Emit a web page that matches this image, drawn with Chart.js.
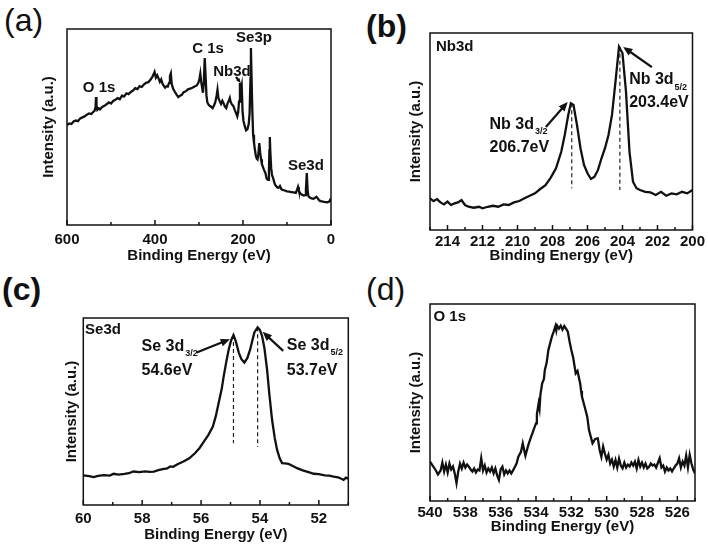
<!DOCTYPE html>
<html>
<head>
<meta charset="utf-8">
<script src="https://cdn.jsdelivr.net/npm/chart.js@4"></script>
<style>
  body { margin: 0; background: #fff; width: 708px; height: 545px; overflow: hidden; position: relative;
         font-family: "Liberation Sans", Arial, sans-serif; }
  canvas { position: absolute; left: 0; top: 0; }
  .tag { position: absolute; font-size: 32px; line-height: 1; color: #111; }
</style>
</head>
<body>
<div class="tag" style="left:4px;top:4px">(a)</div>
<div class="tag" style="left:366px;top:10px;font-weight:bold">(b)</div>
<div class="tag" style="left:2px;top:273px;font-weight:bold">(c)</div>
<div class="tag" style="left:366px;top:273px">(d)</div>
<canvas id="chartA" width="708" height="545"></canvas>
<canvas id="chartB" width="708" height="545"></canvas>
<canvas id="chartC" width="708" height="545"></canvas>
<canvas id="chartD" width="708" height="545"></canvas>
<script>
// (a) survey spectrum
const surveyEnergy = [600,595,590,585,580,575,570,565,560,555,550,545,540,537,535,534,533,531,528,525,520,515,510,505,500,495,490,485,480,475,470,465,460,455,450,445,440,435,430,425,420,415,410,406,403,401,398,395,392,389,386,383,380,377,374,371,368,366,364,362,359,355,351,347,343,339,335,330,325,320,315,310,305,301,299,297,295,293,291,289,287,285,283,281,278,275,272,269,266,263,260,258,256,253,250,247,244,241,238,235,232,230,228,225,222,219,216,213,211,209,207,205,203,201,199,196,193,190,187,185,183,182,181,179,177,175,173,171,169,167,165,163,161,159,157,155,152,149,146,143,141,140,139,138,136,134,131,128,125,122,119,116,113,110,105,100,95,90,85,80,77,75,73,70,66,62,59,57,55,53,51,48,44,40,36,33,30,27,24,20,16,12,8,4,2,0];
const surveyCounts = [51.0,51.8,51.5,52.8,53.3,53.0,54.4,54.9,55.4,56.3,56.9,56.6,57.8,58.4,60.5,65.3,61.0,58.8,59.5,59.0,60.2,60.8,61.6,62.6,62.0,63.3,63.9,64.7,64.2,66.0,65.6,67.2,66.8,67.9,68.6,69.8,69.3,70.8,70.4,71.8,72.6,72.9,74.2,75.6,77.0,78.1,75.2,76.4,74.8,73.1,74.3,72.2,71.0,70.1,70.8,70.6,72.5,76.0,77.3,72.0,69.6,68.0,66.5,65.3,66.0,66.4,67.8,68.2,69.2,69.6,70.0,70.7,71.2,72.8,74.5,77.2,73.0,70.2,67.5,73.0,85.2,76.0,66.0,62.5,61.3,60.7,60.2,59.6,61.0,62.6,66.0,69.0,64.8,63.2,61.8,63.4,62.0,60.4,59.6,62.1,63.5,64.8,62.8,61.4,60.8,58.9,57.2,55.4,57.5,63.0,72.5,69.0,71.2,58.0,53.2,50.4,48.3,48.8,51.5,57.0,75.0,90.3,80.0,60.0,46.0,42.0,38.5,35.6,34.0,33.5,36.5,41.8,37.0,33.5,31.0,29.8,28.0,26.5,23.5,23.0,28.0,38.0,44.9,38.0,29.0,25.5,23.5,21.0,19.9,19.2,19.0,19.9,18.4,17.9,17.6,17.2,17.0,16.8,16.6,16.4,18.0,19.4,17.5,16.2,15.4,15.0,15.2,18.0,26.5,17.0,14.6,14.0,13.6,13.4,13.9,14.4,13.6,12.6,12.2,12.0,11.8,11.7,11.6,12.0,12.8,11.8];

// (b) Nb 3d
const nbEnergy = [215.0,214.8,214.6,214.4,214.2,214.0,213.8,213.6,213.4,213.2,213.0,212.8,212.5,212.2,212.0,211.7,211.4,211.1,210.8,210.5,210.2,209.9,209.6,209.3,209.0,208.7,208.4,208.1,207.8,207.5,207.3,207.1,206.95,206.8,206.6,206.4,206.2,206.0,205.8,205.6,205.4,205.2,205.0,204.8,204.6,204.4,204.2,204.0,203.8,203.6,203.4,203.2,203.0,202.7,202.4,202.1,201.8,201.5,201.2,200.9,200.6,200.3,200.0];
const nbCounts = [16.1,14.7,15.7,14.0,13.0,14.4,12.7,13.5,14.0,15.2,12.7,11.8,11.3,11.8,11.0,11.8,12.3,11.8,13.0,12.7,14.0,14.7,16.1,17.4,18.6,20.8,22.8,26.6,31.3,39.7,48.2,58.4,64.3,63.5,53.3,41.5,33.0,28.8,25.9,27.0,30.5,36.4,41.5,48.2,58.4,75.3,93.0,89.7,70.2,39.7,24.5,21.2,20.3,19.4,19.1,17.8,19.4,17.4,18.6,18.1,19.4,18.6,20.3];

// (c) Se 3d
const seEnergy = [60.0,59.8,59.65,59.5,59.3,59.1,58.97,58.8,58.6,58.45,58.3,58.1,57.9,57.75,57.6,57.45,57.3,57.15,57.05,56.95,56.8,56.6,56.4,56.2,56.05,55.9,55.75,55.6,55.5,55.4,55.3,55.23,55.15,55.06,54.98,54.9,54.82,54.72,54.63,54.53,54.43,54.33,54.25,54.19,54.08,54.0,53.93,53.85,53.76,53.68,53.59,53.5,53.42,53.33,53.25,53.15,53.03,52.9,52.74,52.55,52.35,52.17,52.0,51.8,51.65,51.5,51.35,51.25,51.16,51.08,51.0];
const seCounts = [15.8,15.4,14.9,15.6,16.0,15.7,16.7,16.2,16.6,17.0,17.9,17.6,18.0,17.7,17.9,18.6,19.2,19.6,20.6,20.4,21.8,23.3,25.0,27.8,30.5,34.0,37.5,42.0,47.5,54.8,62.0,69.0,76.0,83.3,88.0,90.9,87.5,81.5,78.0,76.2,78.5,83.3,88.5,92.3,95.0,93.5,90.5,84.0,72.6,59.0,45.7,36.0,29.6,25.0,22.4,22.3,22.0,21.0,19.7,18.5,17.6,16.7,16.5,15.8,15.7,15.2,14.8,14.2,13.4,14.6,14.0];

// (d) O 1s
const oEnergy = [540.0,539.85,539.7,539.55,539.4,539.3,539.2,539.1,539.0,538.9,538.8,538.7,538.6,538.5,538.4,538.3,538.2,538.1,538.0,537.9,537.8,537.7,537.6,537.5,537.4,537.3,537.2,537.1,537.0,536.9,536.8,536.7,536.6,536.5,536.4,536.3,536.2,536.1,536.0,535.9,535.8,535.7,535.6,535.5,535.4,535.3,535.1,535.0,534.85,534.75,534.65,534.6,534.45,534.3,534.2,534.1,534.0,533.95,533.85,533.8,533.75,533.65,533.55,533.5,533.4,533.3,533.2,533.1,533.0,532.9,532.85,532.8,532.7,532.6,532.5,532.4,532.3,532.2,532.1,532.0,531.9,531.75,531.65,531.5,531.45,531.4,531.25,531.1,531.0,530.8,530.65,530.5,530.4,530.3,530.2,530.1,530.0,529.9,529.8,529.7,529.6,529.5,529.4,529.3,529.2,529.1,529.0,528.9,528.8,528.7,528.6,528.5,528.4,528.3,528.2,528.1,528.0,527.9,527.8,527.7,527.6,527.5,527.4,527.3,527.2,527.0,526.9,526.8,526.7,526.6,526.5,526.4,526.3,526.2,526.1,526.0,525.9,525.8,525.7,525.6,525.5,525.4,525.3,525.2,525.1,525.0];
const oCounts = [20,18,16,13.5,15.5,19.5,15,18.5,14.5,19,16,17.5,14,9,15,19,16.5,19.5,17,18.5,17.4,16,15,16.5,14.5,16,15.5,21.7,15.5,18,14.5,16.5,15,17,14,16.5,13,10.7,16,17.4,13.5,15.5,14,15.5,14,15.5,19,22.5,25,29.3,25,23,28,32,34.4,37,39.4,44,49.6,47,54,59.7,62,66.5,70,76.6,80,83.4,86,88.8,86.5,89,87.5,89,87,88.8,87.5,86,81,76.6,73,64.8,66,59.7,56,53,48,42.8,36,29.3,31.5,31.8,26,22.5,27.6,24,21,23.5,19,21,17.5,20.8,17,21.5,18,16.6,19.5,17,18.5,17.5,19.5,18,20,16.5,20.8,17.5,19.5,17,19,16.5,17.4,19,18,18.5,17,21.7,17,18,14.9,17,15.5,16.5,15,16.6,18,19,21.7,17,20,18,23,17,23.4,19,16,14];

// peak markers (dashed drop lines)
const nbMarkEnergy = [206.9, 204.15];
const nbMarkTop = [64.3, 93.0];
const nbMarkBottom = [21.2, 20.3];
const seMarkEnergy = [54.9, 54.08];
const seMarkTop = [90.9, 95.0];
const seMarkBottom = [33.0, 31.0];

Chart.defaults.font.family = '"Liberation Sans", Arial, sans-serif';
Chart.defaults.color = '#111';

const pts = (xs, ys) => xs.map((x, i) => ({x: x, y: ys[i]}));

// box, inward ticks, text notes and arrows
const frame = {
  id: 'frame',
  afterDatasetsDraw(chart, args, opts) {
    const {ctx, chartArea: a, scales: {x, y}} = chart;
    ctx.save();
    ctx.strokeStyle = '#111';
    ctx.lineWidth = 1.5;
    ctx.strokeRect(a.left, a.top, a.right - a.left, a.bottom - a.top);
    const minor = opts.step / 2;
    for (let v = Math.ceil(x.min / minor) * minor; v <= x.max + 1e-9; v += minor) {
      const px = x.getPixelForValue(v);
      const major = Math.abs(v / opts.step - Math.round(v / opts.step)) < 1e-6;
      ctx.beginPath();
      ctx.moveTo(px, a.bottom);
      ctx.lineTo(px, a.bottom - (major ? 5 : 3));
      ctx.stroke();
    }
    ctx.fillStyle = '#111';
    ctx.textBaseline = 'middle';
    (opts.notes || []).forEach(n => {
      ctx.font = 'bold ' + (n.size || 15) + 'px "Liberation Sans", Arial, sans-serif';
      ctx.textAlign = n.align || 'left';
      const px = x.getPixelForValue(n.x), py = y.getPixelForValue(n.y);
      ctx.fillText(n.text, px, py);
      if (n.sub) {
        const w = ctx.measureText(n.text).width;
        ctx.font = 'bold 9px "Liberation Sans", Arial, sans-serif';
        ctx.textAlign = 'left';
        ctx.fillText(n.sub, px + w + 1, py + 7);
      }
    });
    ctx.lineWidth = 2.2;
    (opts.arrows || []).forEach(ar => {
      const x0 = x.getPixelForValue(ar.from[0]), y0 = y.getPixelForValue(ar.from[1]);
      const x1 = x.getPixelForValue(ar.to[0]), y1 = y.getPixelForValue(ar.to[1]);
      const ang = Math.atan2(y1 - y0, x1 - x0);
      const head = ar.head || 10;
      ctx.beginPath();
      ctx.moveTo(x0, y0);
      ctx.lineTo(x1 - Math.cos(ang) * head * 0.7, y1 - Math.sin(ang) * head * 0.7);
      ctx.stroke();
      ctx.beginPath();
      ctx.moveTo(x1, y1);
      ctx.lineTo(x1 - head * Math.cos(ang - 0.4), y1 - head * Math.sin(ang - 0.4));
      ctx.lineTo(x1 - head * Math.cos(ang + 0.4), y1 - head * Math.sin(ang + 0.4));
      ctx.closePath();
      ctx.fill();
    });
    ctx.restore();
  }
};

function makePanel(id, p) {
  const datasets = [{
    data: pts(p.energy, p.counts),
    borderColor: '#111', borderWidth: 2.3, pointRadius: 0, tension: 0
  }];
  (p.marks || []).forEach(m => {
    datasets.push({
      data: [{x: m[0], y: m[1]}, {x: m[0], y: m[2]}],
      borderColor: '#222', borderWidth: 1.2, borderDash: [4, 3], pointRadius: 0
    });
  });
  const xHeight = p.titleY + 9 - p.box.bottom;
  new Chart(document.getElementById(id), {
    type: 'line',
    data: {datasets: datasets},
    options: {
      responsive: false,
      animation: false,
      events: [],
      layout: {padding: {left: p.yTitleX - 9, top: p.box.top, right: 708 - p.box.right,
                         bottom: 545 - p.box.bottom - xHeight}},
      plugins: {
        legend: {display: false},
        tooltip: {enabled: false},
        frame: {step: p.step, notes: p.notes, arrows: p.arrows}
      },
      scales: {
        x: {
          type: 'linear', reverse: true, min: p.min, max: p.max,
          afterFit: s => { s.height = xHeight; },
          grid: {display: false, drawTicks: false},
          border: {display: false},
          ticks: {stepSize: p.step, includeBounds: false, autoSkip: false, maxRotation: 0,
                  padding: p.tickPad, color: '#111', font: {size: 15, weight: 'bold'}},
          title: {display: true, text: 'Binding Energy (eV)', color: '#111', padding: 0,
                  font: {size: 15, weight: 'bold'}}
        },
        y: {
          min: 0, max: 100,
          afterFit: s => { s.width = p.box.left - (p.yTitleX - 9); },
          grid: {display: false, drawTicks: false},
          border: {display: false},
          ticks: {display: false},
          title: {display: true, text: 'Intensity (a.u.)', color: '#111', padding: 0,
                  font: {size: 15, weight: 'bold'}}
        }
      }
    },
    plugins: [frame]
  });
}

makePanel('chartA', {
  energy: surveyEnergy, counts: surveyCounts,
  min: 0, max: 600, step: 200,
  box: {left: 67, right: 331, top: 29, bottom: 225},
  yTitleX: 49, titleY: 256, tickPad: 6,
  notes: [
    {text: 'O 1s', x: 527, y: 70, align: 'center'},
    {text: 'C 1s', x: 279.5, y: 89.8, align: 'center'},
    {text: 'Se3p', x: 175, y: 95.4, align: 'center'},
    {text: 'Nb3d', x: 225, y: 78, align: 'center'},
    {text: 'Se3d', x: 57, y: 30.1, align: 'center'}
  ],
  arrows: [{from: [216, 75.5], to: [205, 72.5], head: 5}]
});

makePanel('chartB', {
  energy: nbEnergy, counts: nbCounts,
  min: 200, max: 215, step: 2,
  box: {left: 430, right: 695, top: 33, bottom: 230},
  yTitleX: 415.7, titleY: 256, tickPad: 3,
  marks: nbMarkEnergy.map((e, i) => [e, nbMarkTop[i], nbMarkBottom[i]]),
  notes: [
    {text: 'Nb3d', x: 214.66, y: 92.9},
    {text: 'Nb 3d', sub: '3/2', x: 211.6, y: 53.5, size: 16},
    {text: '206.7eV', x: 211.6, y: 41.6, size: 16},
    {text: 'Nb 3d', sub: '5/2', x: 203.62, y: 76.1, size: 16},
    {text: '203.4eV', x: 203.62, y: 64.5, size: 16}
  ],
  arrows: [
    {from: [208.38, 52.3], to: [207.13, 65]},
    {from: [202.32, 82.7], to: [203.96, 92.9]}
  ]
});

makePanel('chartC', {
  energy: seEnergy, counts: seCounts,
  min: 51, max: 60, step: 2,
  box: {left: 83.3, right: 348.3, top: 318, bottom: 505},
  yTitleX: 71.7, titleY: 535, tickPad: 5,
  marks: seMarkEnergy.map((e, i) => [e, seMarkTop[i], seMarkBottom[i]]),
  notes: [
    {text: 'Se3d', x: 59.94, y: 93.6},
    {text: 'Se 3d', sub: '3/2', x: 58.02, y: 84.7, size: 16},
    {text: '54.6eV', x: 58.02, y: 71.8, size: 16},
    {text: 'Se 3d', sub: '5/2', x: 53.09, y: 85.2, size: 16},
    {text: '53.7eV', x: 53.09, y: 71.8, size: 16}
  ],
  arrows: [
    {from: [56.15, 81.6], to: [55.02, 88.7]},
    {from: [53.21, 82.4], to: [53.91, 92.6]}
  ]
});

makePanel('chartD', {
  energy: oEnergy, counts: oCounts,
  min: 525, max: 540, step: 2,
  box: {left: 430, right: 695, top: 304, bottom: 501},
  yTitleX: 415.7, titleY: 527, tickPad: 3,
  notes: [{text: 'O 1s', x: 539.8, y: 93.4}]
});
</script>
</body>
</html>
